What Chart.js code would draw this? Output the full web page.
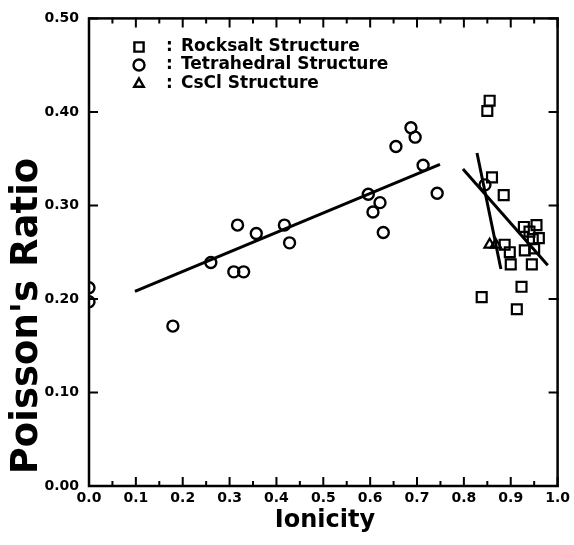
<!DOCTYPE html>
<html>
<head>
<meta charset="utf-8">
<script src="https://cdn.jsdelivr.net/npm/chart.js@4.4.1/dist/chart.umd.min.js"></script>
<style>
html,body{margin:0;padding:0;background:#fff;}
#wrap{width:574px;height:545px;}
</style>
</head>
<body>
<div id="wrap"><canvas id="c" width="574" height="545"></canvas></div>
<script>
// ---- data ----
const rocksaltX = [0.855,0.850,0.860,0.885,0.928,0.955,0.940,0.947,0.930,0.950,0.945,0.887,0.898,0.900,0.923,0.838,0.913,0.960];
const rocksaltY = [0.412,0.401,0.330,0.311,0.277,0.279,0.272,0.264,0.252,0.254,0.237,0.258,0.250,0.237,0.213,0.202,0.189,0.265];
const tetraX = [0.000,0.000,0.179,0.260,0.317,0.309,0.330,0.357,0.417,0.428,0.596,0.606,0.621,0.628,0.655,0.687,0.696,0.713,0.743,0.845];
const tetraY = [0.212,0.197,0.171,0.239,0.279,0.229,0.229,0.270,0.279,0.260,0.312,0.293,0.303,0.271,0.363,0.383,0.373,0.343,0.313,0.322];
const csclX = [0.855,0.868];
const csclY = [0.258,0.258];
const fit1X = [0.098,0.749], fit1Y = [0.208,0.344];
const fit2X = [0.828,0.879], fit2Y = [0.356,0.232];
const fit3X = [0.798,0.979], fit3Y = [0.339,0.236];
const legendLabels = ['Rocksalt Structure','Tetrahedral Structure','CsCl Structure'];
const xTitle = 'Ionicity';
const yTitle = "Poisson's Ratio";

const pts = (xs, ys) => xs.map((x,i)=>({x:x,y:ys[i]}));
const FONT = '"DejaVu Sans", sans-serif';

const frame = {
  id:'frame',
  afterDatasetsDraw(chart){
    const ctx = chart.ctx, a = chart.chartArea;
    const xs = chart.scales.x, ys = chart.scales.y;
    ctx.save();
    ctx.strokeStyle = '#000'; ctx.lineWidth = 2.5; ctx.lineCap='square';
    ctx.strokeRect(a.left, a.top, a.right-a.left, a.bottom-a.top);
    ctx.lineWidth = 2;
    ctx.beginPath();
    xs.ticks.forEach(t=>{
      const px = xs.getPixelForValue(t.value);
      const major = Math.abs(Math.round(t.value*10) - t.value*10) < 1e-6;
      const L = major ? 8 : 4;
      ctx.moveTo(px, a.bottom); ctx.lineTo(px, a.bottom - L);
      ctx.moveTo(px, a.top); ctx.lineTo(px, a.top + L);
    });
    ys.ticks.forEach(t=>{
      const py = ys.getPixelForValue(t.value);
      ctx.moveTo(a.left, py); ctx.lineTo(a.left + 8, py);
      ctx.moveTo(a.right, py); ctx.lineTo(a.right - 8, py);
    });
    ctx.stroke();
    // legend
    const styles = ['rect','circle','triangle'];
    const radii = [6.5,5.5,5.5];
    const rowsY = [47,65,84];
    ctx.font = 'bold 17px ' + FONT;
    ctx.textBaseline = 'middle';
    ctx.textAlign = 'left';
    for (let i=0;i<3;i++){
      ctx.lineWidth = 2.4; ctx.strokeStyle='#000'; ctx.fillStyle='rgba(0,0,0,0)';
      Chart.helpers.drawPoint(ctx, {pointStyle:styles[i], radius:radii[i], borderWidth:2.4}, 139, rowsY[i]);
      ctx.fillStyle = '#000';
      ctx.fillText(':', 166, rowsY[i]);
      ctx.fillText(legendLabels[i], 181, rowsY[i]);
    }
    // axis titles
    ctx.fillStyle = '#000';
    ctx.font = 'bold 24px ' + FONT;
    ctx.textAlign = 'center';
    ctx.fillText(xTitle, 325, 521);
    ctx.save();
    ctx.translate(27, 316);
    ctx.rotate(-Math.PI/2);
    ctx.font = 'bold 37px ' + FONT;
    ctx.fillText(yTitle, 0, 0);
    ctx.restore();
    ctx.restore();
  }
};

const lineDs = (xs, ys) => ({type:'line', data:pts(xs,ys), borderColor:'#000', borderWidth:3, pointRadius:0, fill:false, showLine:true});

new Chart(document.getElementById('c'), {
  type:'scatter',
  data:{datasets:[
    lineDs(fit1X, fit1Y), lineDs(fit2X, fit2Y), lineDs(fit3X, fit3Y),
    {label:legendLabels[0], data:pts(rocksaltX,rocksaltY), pointStyle:'rect', radius:7, borderColor:'#000', borderWidth:2.2, backgroundColor:'rgba(0,0,0,0)'},
    {label:legendLabels[1], data:pts(tetraX,tetraY), pointStyle:'circle', radius:5.5, borderColor:'#000', borderWidth:2.4, backgroundColor:'rgba(0,0,0,0)'},
    {label:legendLabels[2], data:pts(csclX,csclY), pointStyle:'triangle', radius:6, borderColor:'#000', borderWidth:2.2, backgroundColor:'rgba(0,0,0,0)'}
  ]},
  options:{
    responsive:false, animation:false, devicePixelRatio:1,
    layout:{padding:{top:15,right:14,left:0,bottom:0}},
    plugins:{legend:{display:false}, tooltip:{enabled:false}},
    scales:{
      x:{type:'linear', min:0, max:1, clip:false,
         grid:{display:false, drawTicks:false}, border:{display:false},
         ticks:{stepSize:0.05, autoSkip:false, maxRotation:0, padding:4, color:'#000',
                font:{family:FONT, weight:'bold', size:14},
                callback:(v)=> Math.abs(Math.round(v*10)-v*10)<1e-6 ? v.toFixed(1) : ''},
         afterFit:(s)=>{s.height=59;}},
      y:{type:'linear', min:0, max:0.5,
         grid:{display:false, drawTicks:false}, border:{display:false},
         ticks:{stepSize:0.1, padding:10, color:'#000',
                font:{family:FONT, weight:'bold', size:14},
                callback:(v)=> v.toFixed(2)},
         afterFit:(s)=>{s.width=89;}}
    },
    elements:{point:{hoverRadius:0}}
  },
  plugins:[frame]
});
</script>
</body>
</html>
